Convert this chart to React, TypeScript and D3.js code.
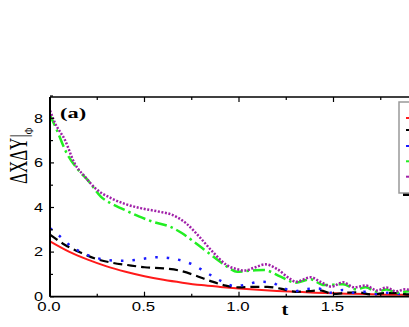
import React from 'react';
import * as d3 from 'd3';

// time samples and values, one pair of arrays per curve
const redT = [0, 0.1, 0.2, 0.3, 0.4, 0.5, 0.6, 0.7, 0.8, 0.9, 1.0, 1.1, 1.2, 1.3, 1.4, 1.5, 1.6, 1.7, 1.8, 1.9, 2.0];
const redV = [2.48, 2.02, 1.66, 1.36, 1.12, 0.92, 0.76, 0.63, 0.52, 0.44, 0.37, 0.31, 0.26, 0.22, 0.18, 0.15, 0.13, 0.11, 0.09, 0.08, 0.07];

const blackT = [0, 0.08, 0.17, 0.25, 0.33, 0.41, 0.5, 0.6, 0.68, 0.76, 0.85, 0.93, 1.0, 1.08, 1.15, 1.22, 1.3, 1.37, 1.43, 1.5, 1.57, 1.63, 1.7, 1.77, 1.83, 1.9, 1.97];
const blackV = [2.78, 2.32, 1.95, 1.68, 1.52, 1.42, 1.32, 1.27, 1.18, 0.98, 0.7, 0.5, 0.42, 0.44, 0.44, 0.36, 0.22, 0.25, 0.28, 0.12, 0.18, 0.2, 0.1, 0.16, 0.16, 0.1, 0.12];

const blueT = [0, 0.044, 0.115, 0.176, 0.24, 0.31, 0.38, 0.45, 0.51, 0.57, 0.64, 0.705, 0.76, 0.82, 0.88, 0.94, 0.98, 1.04, 1.11, 1.17, 1.22, 1.29, 1.36, 1.42, 1.48, 1.55, 1.6, 1.67, 1.73, 1.8, 1.86, 1.92, 1.98];
const blueV = [3.07, 2.77, 2.24, 1.95, 1.75, 1.64, 1.61, 1.65, 1.72, 1.77, 1.72, 1.6, 1.42, 1.12, 0.82, 0.56, 0.47, 0.55, 0.67, 0.64, 0.45, 0.24, 0.35, 0.37, 0.18, 0.3, 0.18, 0.22, 0.12, 0.18, 0.12, 0.15, 0.1];

const greenT = [0, 0.04, 0.079, 0.15, 0.2, 0.27, 0.33, 0.38, 0.47, 0.545, 0.635, 0.695, 0.76, 0.83, 0.9, 0.95, 0.99, 1.07, 1.13, 1.22, 1.3, 1.376, 1.45, 1.55, 1.62, 1.67, 1.73, 1.78, 1.84, 1.9, 1.96];
const greenV = [8.15, 7.4, 6.6, 5.68, 5.23, 4.48, 4.15, 3.95, 3.6, 3.36, 3.14, 2.87, 2.47, 2.02, 1.57, 1.27, 1.12, 1.17, 1.2, 0.9, 0.63, 0.78, 0.52, 0.56, 0.33, 0.42, 0.22, 0.32, 0.18, 0.25, 0.15];

const purpleT = [0, 0.026, 0.079, 0.13, 0.185, 0.24, 0.326, 0.4, 0.485, 0.58, 0.65, 0.72, 0.79, 0.86, 0.935, 0.99, 1.03, 1.08, 1.14, 1.2, 1.27, 1.3, 1.38, 1.43, 1.49, 1.55, 1.61, 1.67, 1.73, 1.78, 1.83, 1.88, 1.94];
const purpleV = [8.35, 7.8, 7.03, 5.98, 5.38, 4.86, 4.41, 4.15, 3.96, 3.81, 3.66, 3.29, 2.69, 2.02, 1.42, 1.23, 1.17, 1.3, 1.45, 1.25, 0.8, 0.67, 0.87, 0.67, 0.45, 0.65, 0.42, 0.5, 0.28, 0.41, 0.24, 0.33, 0.2];

const xTickLabels = ['0.0', '0.5', '1.0', '1.5'];
const yTickLabels = ['0', '2', '4', '6', '8'];

const series = [
  { t: redT, v: redV, color: '#ff1a1a', width: 2, dash: null },
  { t: blackT, v: blackV, color: '#000000', width: 2.2, dash: '9,5' },
  { t: blueT, v: blueV, color: '#1a1aff', width: 2.5, dash: '2.5,9' },
  { t: greenT, v: greenV, color: '#22ee22', width: 2.5, dash: '12,4,2.5,4' },
  { t: purpleT, v: purpleV, color: '#a020a8', width: 2.5, dash: '2,1.6' },
];

const App = () => {
  const W = 409;
  const H = 327;
  const left = 50;
  const top = 97;
  const bottom = 296.7;

  const x = d3.scaleLinear().domain([0, 2]).range([left, left + 2 * 189]);
  const y = d3.scaleLinear().domain([0, 9]).range([bottom, top - 1]);

  const line = d3
    .line<[number, number]>()
    .x((d) => x(d[0]))
    .y((d) => y(d[1]))
    .curve(d3.curveMonotoneX);

  const xTicks = d3.range(0, 2.01, 0.25);
  const yTicks = d3.range(0, 10, 1);
  const legendY = [118, 130, 146, 161.3, 176.7];

  return (
    <svg width={W} height={H} style={{ position: 'absolute', left: 0, top: 0, background: '#fff' }}>
      <defs>
        <clipPath id="plot">
          <rect x={left} y={top} width={W - left} height={bottom - top} />
        </clipPath>
      </defs>

      <g clipPath="url(#plot)">
        {series.map((s, i) => (
          <path
            key={i}
            d={line(s.t.map((t, j) => [t, s.v[j]]) as [number, number][]) || ''}
            fill="none"
            stroke={s.color}
            strokeWidth={s.width}
            strokeDasharray={s.dash || undefined}
          />
        ))}
      </g>

      {/* frame */}
      <line x1={left} x2={W} y1={top} y2={top} stroke="#000" strokeWidth={1.5} />
      <line x1={left} x2={W} y1={bottom} y2={bottom} stroke="#000" strokeWidth={1.8} />
      <line x1={left} x2={left} y1={top} y2={bottom} stroke="#000" strokeWidth={2} />

      {/* x ticks, bottom and top, pointing inward */}
      {xTicks.map((t, i) => {
        const major = i % 2 === 0;
        const len = major ? 5 : 3;
        return (
          <g key={'xt' + i}>
            <line x1={x(t)} x2={x(t)} y1={bottom} y2={bottom - len} stroke="#000" strokeWidth={1.2} />
            <line x1={x(t)} x2={x(t)} y1={top} y2={top + len} stroke="#000" strokeWidth={1.2} />
          </g>
        );
      })}
      {xTickLabels.map((lab, i) => (
        <text
          key={'xl' + i}
          transform={`translate(${x(i * 0.5) - 1},311) scale(1.4,1)`}
          textAnchor="middle"
          fontFamily="Liberation Sans, Arial, sans-serif"
          fontSize={12}
        >
          {lab}
        </text>
      ))}

      {/* y ticks */}
      {yTicks.map((v) => {
        const len = v % 2 === 0 ? 4 : 3;
        return <line key={'yt' + v} x1={left} x2={left + len} y1={y(v)} y2={y(v)} stroke="#000" strokeWidth={1.2} />;
      })}
      {yTickLabels.map((lab) => (
        <text
          key={'yl' + lab}
          transform={`translate(43,${y(+lab) + 4.3}) scale(1.3,1)`}
          textAnchor="end"
          fontFamily="Liberation Sans, Arial, sans-serif"
          fontSize={12.5}
        >
          {lab}
        </text>
      ))}

      {/* axis titles */}
      <text
        transform="translate(285,315) scale(1.2,1)"
        textAnchor="middle"
        fontFamily="Liberation Serif, Times New Roman, serif"
        fontWeight="bold"
        fontSize={17}
      >
        t
      </text>
      <text
        transform="translate(26.5,184) scale(1.5,1) rotate(-90)"
        fontFamily="Liberation Serif, Times New Roman, serif"
        fontSize={17}
      >
        ΔXΔY
        <tspan>|</tspan>
        <tspan fontSize={9} dy={4}>Φ</tspan>
      </text>

      <text
        transform="translate(60,117.5) scale(1.6,1)"
        fontFamily="Liberation Serif, Times New Roman, serif"
        fontWeight="bold"
        fontSize={14}
      >
        (a)
      </text>

      {/* legend (cut off at the right edge) */}
      <rect x={403} y={192.5} width={20} height={3.5} fill="#000" />
      <rect x={399} y={102} width={30} height={91} fill="#fff" stroke="#999" strokeWidth={1.5} />
      {series.map((s, i) => (
        <line
          key={'lg' + i}
          x1={406}
          x2={418}
          y1={legendY[i]}
          y2={legendY[i]}
          stroke={s.color}
          strokeWidth={2}
        />
      ))}
    </svg>
  );
};

export default App;
